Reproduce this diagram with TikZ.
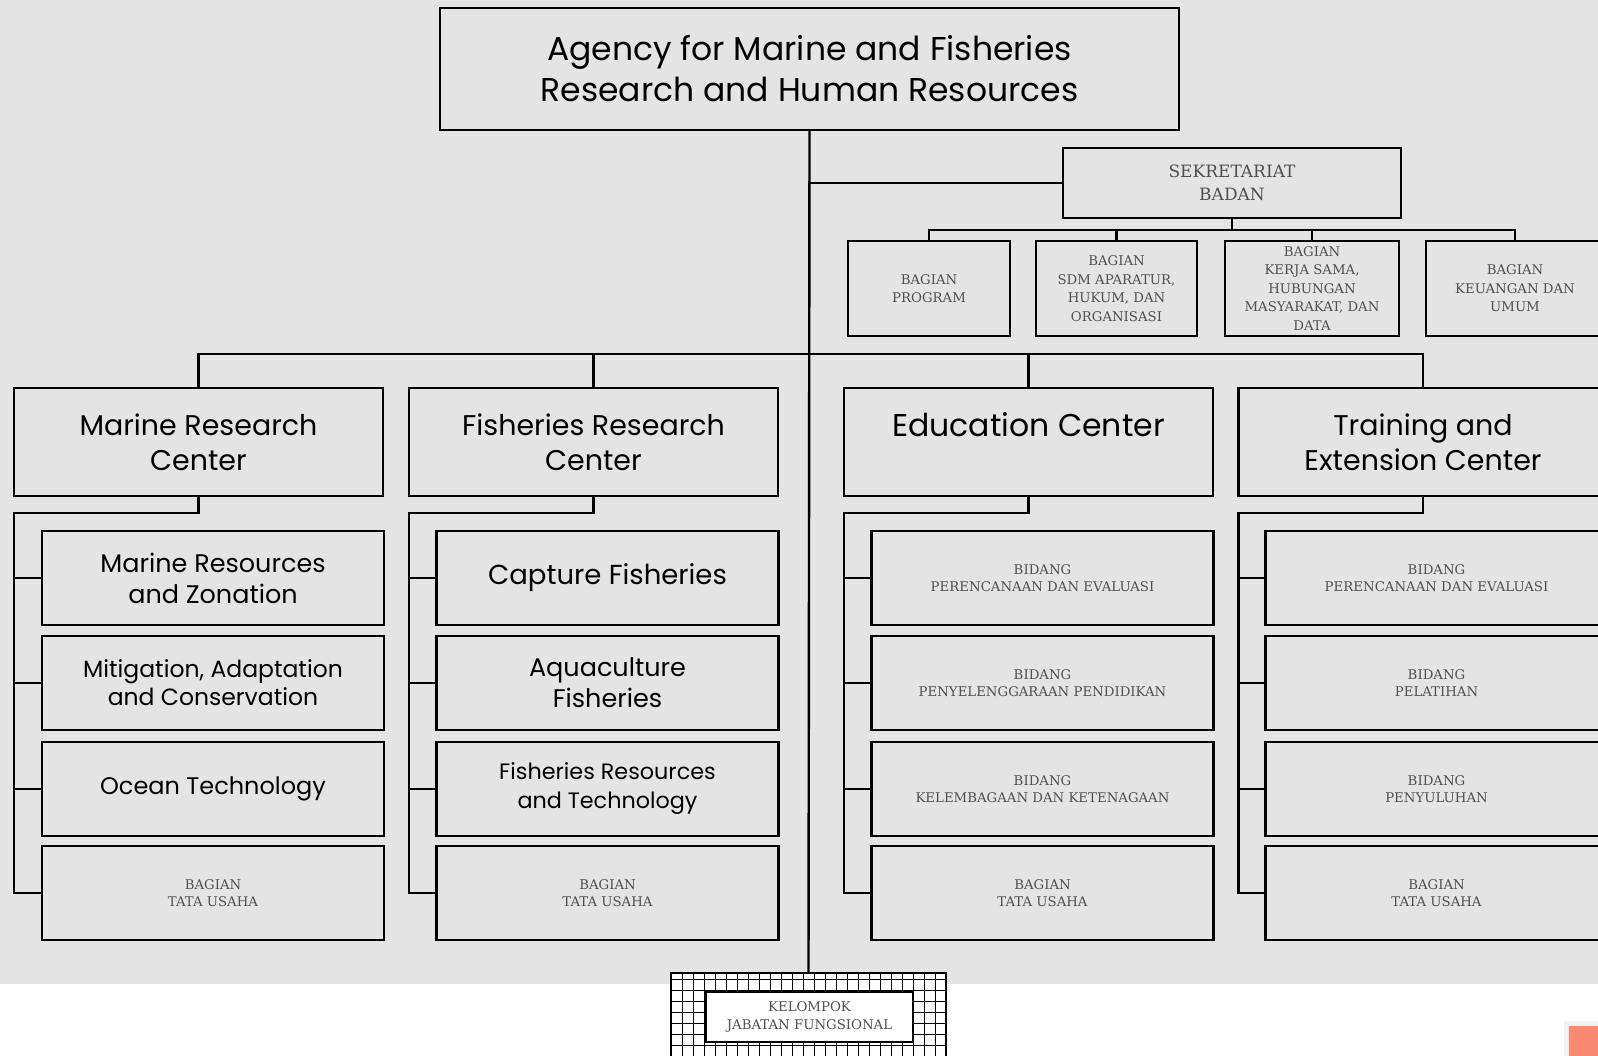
\documentclass[tikz,border=0pt]{standalone}
\usepackage{fontspec}
\setmainfont{DejaVu Serif}
\newfontfamily\gothic{Poppins}

\definecolor{bg}{HTML}{E4E4E4}
\definecolor{salmon}{HTML}{FA8973}
\definecolor{inkgray}{HTML}{505050}

\begin{document}
\begin{tikzpicture}[x=1pt,y=-1pt,
  box/.style={draw, line width=2.4pt, inner sep=2pt, outer sep=0pt, align=center},
  head/.style={box, font=\gothic\fontsize{33}{41}\selectfont},
  unit/.style={box, minimum width=369, minimum height=108, font=\gothic\fontsize{28.5}{35}\selectfont},
  sub/.style={box, minimum width=342, minimum height=94, font=\gothic\fontsize{25}{31}\selectfont},
  bidang/.style={box, minimum width=342, minimum height=94, text=inkgray, font=\fontsize{13.3}{17.5}\selectfont},
  bagian/.style={box, minimum height=95, text=inkgray, font=\fontsize{13.3}{18.5}\selectfont},
  wire/.style={line width=2.4pt}]

  \useasboundingbox (0,0) rectangle (1598,1055);
  \clip (0,0) rectangle (1598,1055);
  \fill[bg] (0,0) rectangle (1598,984);

  % top level
  \node[head, minimum width=739, minimum height=122] (agency) at (809.5,69)
    {Agency for Marine and Fisheries\\Research and Human Resources};
  \node[box, minimum width=338, minimum height=70, text=inkgray,
    font=\fontsize{17}{22.5}\selectfont] (sekretariat) at (1232,183) {SEKRETARIAT\\BADAN};

  \node[bagian, minimum width=162] (program) at (929,288.5) {BAGIAN\\PROGRAM};
  \node[bagian, minimum width=161] (sdm) at (1116.5,288.5) {BAGIAN\\SDM APARATUR,\\HUKUM, DAN\\ORGANISASI};
  \node[bagian, minimum width=174] (kerja) at (1312,288.5) {BAGIAN\\KERJA SAMA,\\HUBUNGAN\\MASYARAKAT, DAN\\DATA};
  \node[bagian, minimum width=178] (keuangan) at (1515,288.5) {BAGIAN\\KEUANGAN DAN\\UMUM};

  % centers
  \node[unit] (marine) at (198.5,442) {Marine Research\\Center};
  \node[unit] (fisheries) at (593.5,442) {Fisheries Research\\Center};
  \node[unit, font=\gothic\fontsize{31.5}{35}\selectfont] (education) at (1028.5,442) {Education Center\\\mbox{}};
  \node[unit] (training) at (1423,442) {Training and\\Extension Center};

  % marine research
  \node[sub, font=\gothic\fontsize{25.5}{31}\selectfont] (mr_1) at (213,578) {Marine Resources\\and Zonation};
  \node[sub, font=\gothic\fontsize{23.5}{28}\selectfont] (mr_2) at (213,683) {Mitigation, Adaptation\\and Conservation};
  \node[sub, font=\gothic\fontsize{24}{31}\selectfont] (mr_3) at (213,789) {Ocean Technology};
  \node[bidang] (mr_4) at (213,893) {BAGIAN\\TATA USAHA};

  % fisheries research
  \node[sub, font=\gothic\fontsize{27.5}{31}\selectfont] (fr_1) at (607.5,578) {Capture Fisheries};
  \node[sub, font=\gothic\fontsize{25.5}{31}\selectfont] (fr_2) at (607.5,683) {Aquaculture\\Fisheries};
  \node[sub, font=\gothic\fontsize{22.3}{29}\selectfont] (fr_3) at (607.5,789) {Fisheries Resources\\and Technology};
  \node[bidang] (fr_4) at (607.5,893) {BAGIAN\\TATA USAHA};

  % education
  \node[bidang] (ed_1) at (1042.5,578) {BIDANG\\PERENCANAAN DAN EVALUASI};
  \node[bidang] (ed_2) at (1042.5,683) {BIDANG\\PENYELENGGARAAN PENDIDIKAN};
  \node[bidang] (ed_3) at (1042.5,789) {BIDANG\\KELEMBAGAAN DAN KETENAGAAN};
  \node[bidang] (ed_4) at (1042.5,893) {BAGIAN\\TATA USAHA};

  % training and extension
  \node[bidang] (tr_1) at (1436.5,578) {BIDANG\\PERENCANAAN DAN EVALUASI};
  \node[bidang] (tr_2) at (1436.5,683) {BIDANG\\PELATIHAN};
  \node[bidang] (tr_3) at (1436.5,789) {BIDANG\\PENYULUHAN};
  \node[bidang] (tr_4) at (1436.5,893) {BAGIAN\\TATA USAHA};

  % functional group
  \node[draw, line width=2.4pt, outer sep=0pt, fill=white, minimum width=275, minimum height=95,
    anchor=north] (kelompok) at (808.5,973) {};
  \begin{scope}
    \clip (kelompok.south west) rectangle (kelompok.north east);
    \draw[line width=1pt, step=11pt] (kelompok.south west) grid (kelompok.north east);
  \end{scope}
  \draw[line width=2.4pt] (kelompok.south west) rectangle (kelompok.north east);
  \node[box, fill=white, minimum width=207, minimum height=50, text=inkgray,
    font=\fontsize{13.3}{18}\selectfont] (jabatan) at (809.5,1017) {KELOMPOK\\JABATAN FUNGSIONAL};

  \fill[black!5] (1564,1021) rectangle (1600,1060);
  \fill[salmon] (1569,1026) rectangle (1600,1060);

  % connectors
  \draw[wire] (agency.south) -- (kelompok.north);
  \draw[wire] (agency.south |- sekretariat.west) -- (sekretariat.west);
  \draw[wire] (sekretariat.south) -- ++(0,12);
  \draw[wire] (program.north) -- ++(0,-11) -| (keuangan.north);
  \draw[wire] (sdm.north) -- ++(0,-11);
  \draw[wire] (kerja.north) -- ++(0,-11);

  \draw[wire] (marine.north) -- ++(0,-34) -| (training.north);
  \draw[wire] (fisheries.north) -- ++(0,-34);
  \draw[wire] (education.north) -- ++(0,-34);

  \draw[wire] (marine.south) -- ++(0,17) -| (marine.west |- mr_4.west) -- (mr_4.west);
  \draw[wire] (marine.west |- mr_1.west) -- (mr_1.west);
  \draw[wire] (marine.west |- mr_2.west) -- (mr_2.west);
  \draw[wire] (marine.west |- mr_3.west) -- (mr_3.west);

  \draw[wire] (fisheries.south) -- ++(0,17) -| (fisheries.west |- fr_4.west) -- (fr_4.west);
  \draw[wire] (fisheries.west |- fr_1.west) -- (fr_1.west);
  \draw[wire] (fisheries.west |- fr_2.west) -- (fr_2.west);
  \draw[wire] (fisheries.west |- fr_3.west) -- (fr_3.west);

  \draw[wire] (education.south) -- ++(0,17) -| (education.west |- ed_4.west) -- (ed_4.west);
  \draw[wire] (education.west |- ed_1.west) -- (ed_1.west);
  \draw[wire] (education.west |- ed_2.west) -- (ed_2.west);
  \draw[wire] (education.west |- ed_3.west) -- (ed_3.west);

  \draw[wire] (training.south) -- ++(0,17) -| (training.west |- tr_4.west) -- (tr_4.west);
  \draw[wire] (training.west |- tr_1.west) -- (tr_1.west);
  \draw[wire] (training.west |- tr_2.west) -- (tr_2.west);
  \draw[wire] (training.west |- tr_3.west) -- (tr_3.west);

\end{tikzpicture}
\end{document}
